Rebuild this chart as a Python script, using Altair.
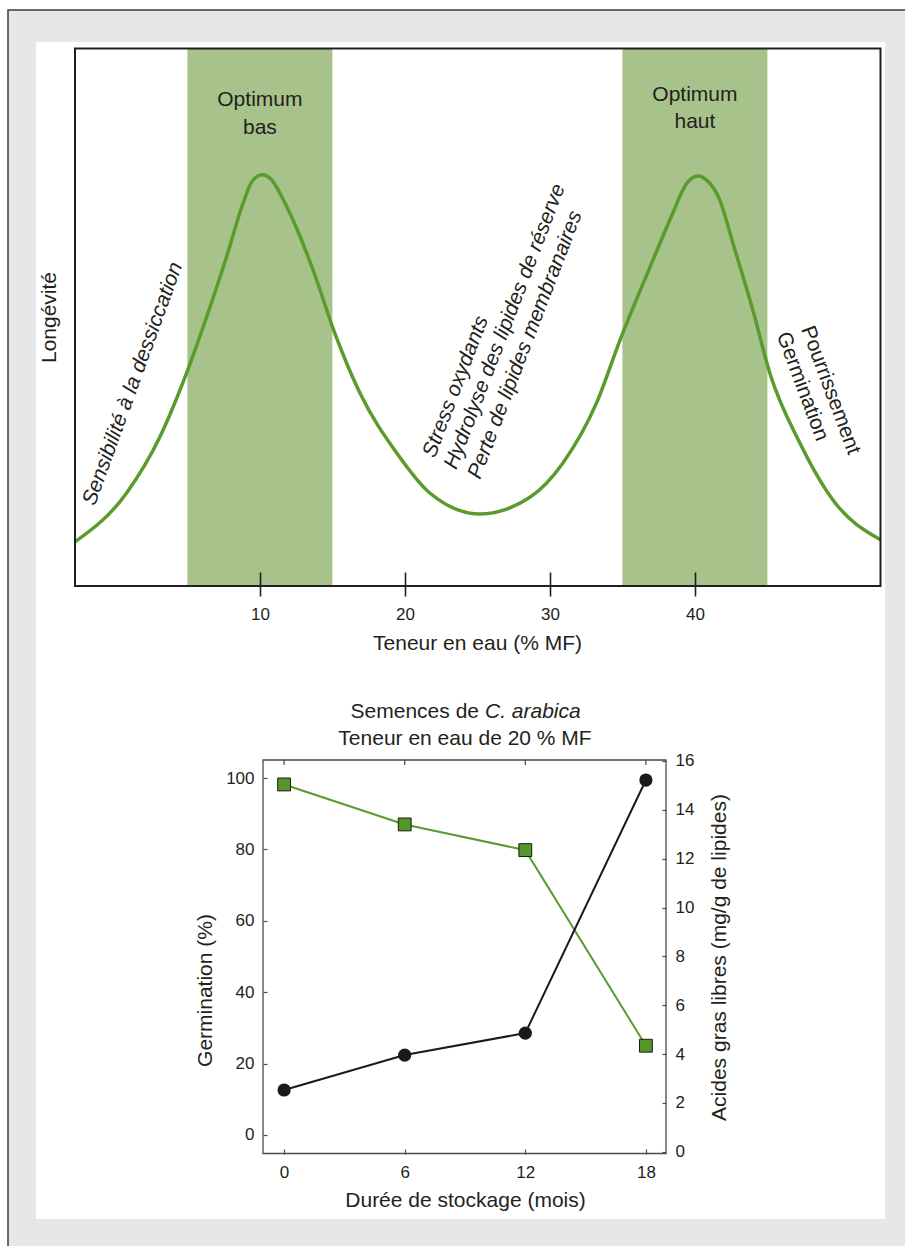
import altair as alt
import pandas as pd

FONT = "Liberation Sans"
TXT = "#231f20"
GREEN = "#5a9b2e"
SQUARE_GREEN = "#55962a"
BAND = "#a7c28b"
DARK = "#1a1a1a"
GREY = "#4a4a4a"

# ---------------- top diagram: longevity vs water content ----------------
curve_water = [-2.75, 0.81, 3.10, 4.83, 6.32, 7.70, 8.85, 9.45, 10.14, 10.83,
               11.59, 12.30, 13.68, 15.17, 16.9, 19.45, 21.72, 25.17, 28.62, 30.9,
               33.24, 34.83, 36.9, 38.48, 39.38, 40.21, 40.9, 41.72, 42.62, 44.0,
               45.17, 47.24, 49.52, 52.8]
curve_longevity = [8.2, 17.3, 27.7, 38.8, 50.0, 61.2, 71.3, 75.2, 76.5, 75.5,
                   72.0, 68.0, 58.7, 47.0, 35.9, 24.7, 17.3, 13.4, 16.5, 22.9,
                   34.2, 45.7, 59.3, 69.4, 74.7, 76.3, 75.3, 71.8, 63.8, 51.3,
                   39.6, 26.6, 16.0, 8.6]
band_start = [5, 35]
band_end = [15, 45]
top_ticks = [10, 20, 30, 40]

optimum_labels = ["Optimum", "bas", "Optimum", "haut"]
optimum_x = [10, 10, 40, 40]
optimum_y = [90.4, 85.3, 91.3, 86.3]

italic_labels = ["Sensibilité à la dessiccation", "Stress oxydants",
                 "Hydrolyse des lipides de réserve", "Perte de lipides membranaires"]
italic_x = [-1.78, 21.67, 23.16, 24.79]
italic_y = [15.16, 24.09, 21.92, 20.13]
italic_angle = [290, 291, 291, 291]

right_labels = ["Pourrissement", "Germination"]
right_x = [47.71, 46.02]
right_y = [48.22, 47.07]
right_angle = [69.5, 69.5]

# ---------------- bottom chart: C. arabica storage ----------------
months = [0, 6, 12, 18]
germination = [98.2, 87.0, 79.8, 25.0]
free_fatty_acids = [2.53, 3.96, 4.86, 15.22]
germ_ticks = [0, 20, 40, 60, 80, 100]
ffa_ticks = [0, 2, 4, 6, 8, 10, 12, 14, 16]

# ---------------- scales (explicit pixel ranges inside one 905x1246 view) ----
xs_top = alt.Scale(domain=[-2.75, 52.8], range=[75, 880.5], nice=False, zero=False)
ys_top = alt.Scale(domain=[0, 100], range=[586, 48.5], nice=False, zero=False)
xs_bot = alt.Scale(domain=[-1.05, 19.0], range=[263, 666], nice=False, zero=False)
ys_left = alt.Scale(domain=[-5.2, 105.05], range=[1153.5, 760], nice=False, zero=False)
ys_right = alt.Scale(domain=[-0.07, 16.04], range=[1153.5, 760], nice=False, zero=False)

# ---------------- axes (same object reused by every layer sharing a scale) ----
ax_top_x = alt.Axis(
    orient="bottom", offset=-674, values=top_ticks, format="d", zindex=2,
    tickSize=24, tickWidth=1.6, tickColor=TXT, domain=False, grid=False,
    labelPadding=10, labelFontSize=17, labelFlush=False,
    title="Teneur en eau (% MF)", titleFontSize=21, titleX=477, titleY=71,
    titleAlign="center", titleBaseline="middle")
ax_top_y = alt.Axis(
    orient="left", offset=-75, labels=False, ticks=False, domain=False, grid=False,
    zindex=2, title="Longévité", titleFontSize=21, titleX=-26, titleY=317,
    titleAngle=270, titleAlign="center", titleBaseline="middle")
ax_bot_x = alt.Axis(
    orient="bottom", offset=-97, values=months, format="d", zindex=2,
    tickSize=5, tickWidth=1.2, tickColor=GREY, domain=False, grid=False,
    labelPadding=10, labelFontSize=17, labelFlush=False,
    title="Durée de stockage (mois)", titleFontSize=21, titleX=465, titleY=51,
    titleAlign="center", titleBaseline="middle")
ax_left = alt.Axis(
    orient="left", offset=-267, values=germ_ticks, format="d", zindex=2,
    tickSize=4, tickWidth=1.2, tickColor=GREY, domain=False, grid=False,
    labelPadding=9, labelFontSize=17, labelFlush=False,
    title="Germination (%)", titleFontSize=21, titleX=-62, titleY=990, titleAngle=270,
    titleAlign="center", titleBaseline="middle")
ax_right = alt.Axis(
    orient="right", offset=-243, values=ffa_ticks, format="d", zindex=2,
    tickSize=4, tickWidth=1.2, tickColor=GREY, domain=False, grid=False,
    labelPadding=9, labelFontSize=17, labelFlush=False,
    title="Acides gras libres (mg/g de lipides)", titleFontSize=21,
    titleX=57, titleY=957, titleAngle=270,
    titleAlign="center", titleBaseline="middle")

one = pd.DataFrame({"k": [0]})

# page background: grey card with dark top/left rule, white panel
bg = alt.Chart(one).mark_rect(fill="#e6e7e8", stroke="#3c3c3c", strokeWidth=1.5).encode(
    x=alt.value(8), x2=alt.value(915), y=alt.value(10), y2=alt.value(1260))
panel = alt.Chart(one).mark_rect(fill="white").encode(
    x=alt.value(36), x2=alt.value(885), y=alt.value(42), y2=alt.value(1219))

# ---- top group ----
bands_df = pd.DataFrame({"start": band_start, "end": band_end})
bands = alt.Chart(bands_df).mark_rect(color=BAND).encode(
    x=alt.X("start:Q", scale=xs_top, axis=ax_top_x),
    x2="end:Q",
    y=alt.YDatum(100, scale=ys_top, axis=ax_top_y),
    y2=alt.Y2Datum(0),
)

curve_df = pd.DataFrame({"water": curve_water, "longevity": curve_longevity})
curve = alt.Chart(curve_df).mark_line(color=GREEN, strokeWidth=3.5, interpolate="monotone").encode(
    x=alt.X("water:Q", scale=xs_top, axis=ax_top_x),
    y=alt.Y("longevity:Q", scale=ys_top, axis=ax_top_y),
)

opt_df = pd.DataFrame({"label": optimum_labels, "x": optimum_x, "y": optimum_y})
opt_text = alt.Chart(opt_df).mark_text(font=FONT, fontSize=21, color=TXT, align="center",
                                       baseline="middle").encode(
    x=alt.X("x:Q", scale=xs_top, axis=ax_top_x),
    y=alt.Y("y:Q", scale=ys_top, axis=ax_top_y),
    text="label:N",
)

ital_df = pd.DataFrame({"label": italic_labels, "x": italic_x, "y": italic_y, "angle": italic_angle})
ital_text = alt.Chart(ital_df).mark_text(font=FONT, fontSize=21, fontStyle="italic", color=TXT,
                                         align="left", baseline="middle").encode(
    x=alt.X("x:Q", scale=xs_top, axis=ax_top_x),
    y=alt.Y("y:Q", scale=ys_top, axis=ax_top_y),
    angle=alt.Angle("angle:Q", scale=None),
    text="label:N",
)

right_df = pd.DataFrame({"label": right_labels, "x": right_x, "y": right_y, "angle": right_angle})
right_text = alt.Chart(right_df).mark_text(font=FONT, fontSize=21, color=TXT,
                                           align="left", baseline="middle").encode(
    x=alt.X("x:Q", scale=xs_top, axis=ax_top_x),
    y=alt.Y("y:Q", scale=ys_top, axis=ax_top_y),
    angle=alt.Angle("angle:Q", scale=None),
    text="label:N",
)

top_frame = alt.Chart(one).mark_rect(fillOpacity=0, stroke=TXT, strokeWidth=2).encode(
    x=alt.XDatum(-2.75, scale=xs_top, axis=ax_top_x),
    x2=alt.X2Datum(52.8),
    y=alt.YDatum(0, scale=ys_top, axis=ax_top_y),
    y2=alt.Y2Datum(100),
)

top = alt.layer(bands, curve, opt_text, ital_text, right_text, top_frame)

# ---- bottom group ----
bot_df = pd.DataFrame({"mois": months, "germ": germination, "agl": free_fatty_acids})

bot_frame = alt.Chart(one).mark_rect(fillOpacity=0, stroke=GREY, strokeWidth=1.3).encode(
    x=alt.XDatum(-1.05, scale=xs_bot, axis=ax_bot_x),
    x2=alt.X2Datum(19.0),
    y=alt.YDatum(-5.2, scale=ys_left, axis=ax_left),
    y2=alt.Y2Datum(105.05),
)
top_ticks_b = alt.Chart(bot_df).mark_rule(color=GREY, strokeWidth=1.2).encode(
    x=alt.X("mois:Q", scale=xs_bot, axis=ax_bot_x),
    y=alt.value(760), y2=alt.value(765),
)
green_line = alt.Chart(bot_df).mark_line(color=GREEN, strokeWidth=2).encode(
    x=alt.X("mois:Q", scale=xs_bot, axis=ax_bot_x),
    y=alt.Y("germ:Q", scale=ys_left, axis=ax_left),
)
squares = alt.Chart(bot_df).mark_square(size=165, color=SQUARE_GREEN, stroke=DARK,
                                        strokeWidth=1, opacity=1).encode(
    x=alt.X("mois:Q", scale=xs_bot, axis=ax_bot_x),
    y=alt.Y("germ:Q", scale=ys_left, axis=ax_left),
)
green_group = alt.layer(bot_frame, top_ticks_b, green_line, squares)

black_line = alt.Chart(bot_df).mark_line(color=DARK, strokeWidth=2).encode(
    x=alt.X("mois:Q", scale=xs_bot, axis=ax_bot_x),
    y=alt.Y("agl:Q", scale=ys_right, axis=ax_right),
)
circles = alt.Chart(bot_df).mark_circle(size=175, color=DARK, opacity=1).encode(
    x=alt.X("mois:Q", scale=xs_bot, axis=ax_bot_x),
    y=alt.Y("agl:Q", scale=ys_right, axis=ax_right),
)
black_group = alt.layer(black_line, circles)

bottom = alt.layer(green_group, black_group).resolve_scale(y="independent")

# bottom chart title (mixed roman / italic)
t1a = alt.Chart(one).mark_text(font=FONT, fontSize=21, color=TXT, align="right",
                               baseline="middle", text="Semences de").encode(
    x=alt.value(479), y=alt.value(712))
t1b = alt.Chart(one).mark_text(font=FONT, fontSize=21, color=TXT, align="left", fontStyle="italic",
                               baseline="middle", text="C. arabica").encode(
    x=alt.value(485), y=alt.value(712))
t2 = alt.Chart(one).mark_text(font=FONT, fontSize=21, color=TXT, align="center",
                              baseline="middle", text="Teneur en eau de 20 % MF").encode(
    x=alt.value(465), y=alt.value(739))

chart = alt.layer(bg, panel, top, bottom, t1a, t1b, t2).resolve_scale(
    x="independent", y="independent"
).properties(
    width=905, height=1246, padding=0,
    autosize=alt.AutoSizeParams(type="none"),
    background="white",
).configure_view(strokeWidth=0).configure_axis(
    labelFont=FONT, titleFont=FONT, labelColor=TXT, titleColor=TXT,
    labelFontSize=17, titleFontSize=21,
    titleFontWeight="normal", grid=False,
).configure_text(font=FONT)

chart.save("out.html", embed_options={"renderer": "svg", "actions": False})
